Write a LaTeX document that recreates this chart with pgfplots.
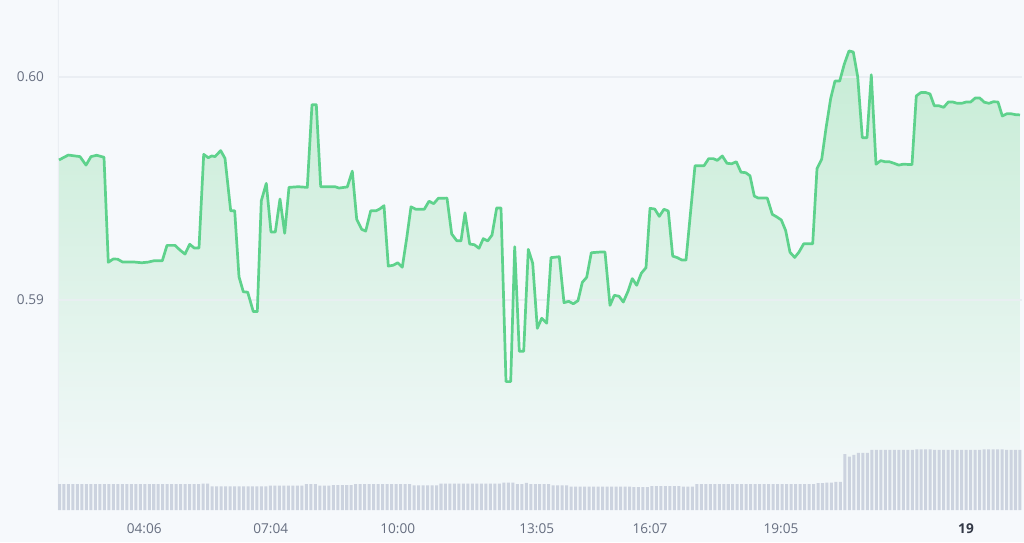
\documentclass[border=0pt]{standalone}
\usepackage{fontspec}
\setmainfont{Open Sans}
\usepackage{pgfplots}
\pgfplotsset{compat=1.18}
\usepackage{pgfplotstable}

\definecolor{bg}{RGB}{246,249,252}
\definecolor{linegreen}{RGB}{94,210,140}
\definecolor{fillgreen}{RGB}{198,236,213}
\definecolor{barcol}{RGB}{204,211,223}
\definecolor{gridcol}{RGB}{234,238,243}
\definecolor{ticktext}{RGB}{102,110,128}
\definecolor{boldtext}{RGB}{50,56,70}

% price, x = position along the time axis
\pgfplotstableread{
x y
59 0.59628
68.3 0.59650
80 0.59643
86 0.59605
91 0.59643
96.7 0.59649
104 0.59640
108.3 0.59169
113.3 0.59184
117.7 0.59183
122.7 0.59170
135 0.59170
141.7 0.59167
148.3 0.59170
154 0.59176
162.3 0.59176
167 0.59245
175 0.59245
180 0.59224
185 0.59206
189.7 0.59250
194.3 0.59233
199 0.59233
203.7 0.59653
208.3 0.59638
211.7 0.59646
215 0.59643
220.7 0.59670
225 0.59635
230.7 0.59400
234.7 0.59400
239 0.59104
243.3 0.59037
247.7 0.59035
253.3 0.58948
257.3 0.58948
261.3 0.59445
266.3 0.59523
271 0.59305
275.3 0.59305
280 0.59453
284.7 0.59299
289 0.59505
298.3 0.59508
307.3 0.59505
312 0.59876
316.3 0.59876
320.7 0.59508
330 0.59508
335 0.59508
339 0.59502
347.3 0.59507
352.3 0.59578
356.7 0.59362
361.7 0.59317
365.7 0.59309
370.7 0.59400
376 0.59400
380 0.59409
384 0.59423
388.3 0.59152
393.3 0.59156
397.7 0.59167
402.3 0.59147
406.7 0.59277
411 0.59418
415.7 0.59407
424.3 0.59407
429 0.59443
433.7 0.59432
438.3 0.59456
447 0.59457
451.7 0.59296
456.7 0.59266
461 0.59265
465 0.59391
469.7 0.59251
474.3 0.59248
479 0.59232
483.3 0.59275
487.7 0.59265
492 0.59291
496.7 0.59413
501 0.59413
506 0.58634
510.7 0.58634
514.7 0.59239
519.3 0.58770
523.7 0.58770
528.3 0.59227
532.7 0.59165
537.3 0.58873
541.7 0.58918
546.7 0.58896
551 0.59190
559.3 0.59194
564 0.58988
568.7 0.58994
573.3 0.58983
578 0.58997
582.3 0.59079
586.7 0.59102
591.3 0.59212
600 0.59215
605 0.59215
610 0.58976
614.3 0.59021
619 0.59017
623.3 0.58991
628 0.59039
632.3 0.59096
636.7 0.59066
641.3 0.59120
646 0.59145
650 0.59411
654.7 0.59408
659.3 0.59375
664 0.59407
668.3 0.59399
672.7 0.59197
677.3 0.59190
682 0.59179
686 0.59179
695 0.59602
704 0.59602
708.7 0.59634
713.3 0.59634
717.3 0.59626
722.3 0.59646
727 0.59613
731.7 0.59611
736.3 0.59620
741 0.59573
745.7 0.59571
750 0.59557
754.3 0.59466
758.3 0.59457
767.3 0.59457
772.3 0.59384
777 0.59372
781.3 0.59359
785.7 0.59311
790 0.59214
794.7 0.59191
799 0.59215
803.7 0.59252
812.7 0.59252
817 0.59589
821.7 0.59631
826 0.59770
830.7 0.59904
835 0.59982
839.7 0.59982
844.3 0.60058
849 0.60117
853.3 0.60112
857.7 0.60001
862.3 0.59728
867 0.59728
871.3 0.60010
876 0.59609
880.7 0.59625
885 0.59620
889.3 0.59620
894 0.59613
898.7 0.59605
903.3 0.59609
912 0.59607
916.3 0.59915
920.7 0.59930
925.3 0.59931
930 0.59924
934.3 0.59871
939 0.59871
943.7 0.59864
948.3 0.59888
952.7 0.59888
957.3 0.59882
961.7 0.59882
966.3 0.59888
970.7 0.59888
975.3 0.59906
979.7 0.59906
984.3 0.59887
989 0.59882
993.3 0.59889
998 0.59888
1002.3 0.59825
1006.7 0.59835
1011.3 0.59835
1015.7 0.59831
1020 0.59830
}\price

\begin{document}
\begin{tikzpicture}
\fill[bg] (-29pt,-16pt) rectangle (483pt,255pt);

\begin{axis}[
    at={(0,0)}, anchor=south west,
    scale only axis, width=482pt, height=255pt,
    xmin=58, xmax=1022,
    ymin=0.580583, ymax=0.603453,
    axis line style={draw=none},
    xtick={144.3,270.7,397.7,536.7,650,781,966},
    xticklabels={04:06,07:04,10:00,13:05,16:07,19:05,{\bfseries\color{boldtext}19}},
    ytick={0.59,0.60},
    yticklabels={0.59,0.60},
    major tick length=0pt,
    ymajorgrids,
    major grid style={draw=gridcol, line width=0.6pt},
    tick label style={font=\fontsize{6.8}{8}\selectfont, text=ticktext},
    xticklabel style={yshift=-3.5pt},
    yticklabel style={xshift=-3.5pt},
]
% gradient area under the price line
\addplot[draw=none, top color=fillgreen, bottom color=bg]
    table[x=x, y=y] {\price}
    -- (axis cs:1020,0.580583) -- (axis cs:59,0.580583) -- cycle;
\draw[gridcol, line width=0.6pt] (rel axis cs:0,0) -- (rel axis cs:0,1);
\draw[gridcol, line width=0.6pt, opacity=0.8] (axis cs:58,0.59) -- (axis cs:1022,0.59);
\draw[gridcol, line width=0.6pt, opacity=0.8] (axis cs:58,0.60) -- (axis cs:1022,0.60);
\addplot[linegreen, line width=1.35pt, line join=round] table[x=x, y=y] {\price};
\end{axis}

% volume bars
\begin{axis}[
    at={(0,0)}, anchor=south west,
    scale only axis, width=482pt, height=255pt,
    xmin=-0.334, xmax=214.45,
    ymin=0, ymax=19.615,
    hide axis,
]
\addplot[ybar, bar width=0.67, fill=barcol, draw=none] coordinates {
(0,1.00) (1,1.00) (2,1.00) (3,1.00) (4,1.00) (5,1.00) (6,1.00) (7,1.00) (8,1.00) (9,1.00)
(10,1.00) (11,1.00) (12,1.00) (13,1.00) (14,1.00) (15,1.00) (16,1.00) (17,1.00) (18,1.00) (19,1.00)
(20,1.00) (21,1.00) (22,1.00) (23,1.00) (24,1.00) (25,1.00) (26,1.00) (27,1.00) (28,1.00) (29,1.00)
(30,1.00) (31,1.00) (32,1.01) (33,1.01) (34,0.91) (35,0.91) (36,0.91) (37,0.91) (38,0.91) (39,0.91)
(40,0.91) (41,0.91) (42,0.91) (43,0.91) (44,0.91) (45,0.91) (46,0.91) (47,0.94) (48,0.94) (49,0.94)
(50,0.94) (51,0.94) (52,0.94) (53,0.94) (54,0.94) (55,1.00) (56,1.00) (57,1.00) (58,0.94) (59,0.94)
(60,0.94) (61,0.96) (62,0.96) (63,0.96) (64,0.96) (65,0.96) (66,1.00) (67,1.00) (68,1.00) (69,1.00)
(70,1.00) (71,1.00) (72,1.00) (73,1.00) (74,1.00) (75,1.00) (76,1.00) (77,1.00) (78,1.00) (79,0.95)
(80,0.95) (81,0.95) (82,0.95) (83,0.95) (84,0.95) (85,1.01) (86,1.01) (87,1.01) (88,1.01) (89,1.01)
(90,1.01) (91,1.01) (92,1.01) (93,1.01) (94,1.01) (95,1.01) (96,1.01) (97,1.01) (98,1.01) (99,1.05)
(100,1.05) (101,1.05) (102,1.00) (103,1.00) (104,1.04) (105,1.00) (106,1.00) (107,1.00) (108,1.00) (109,1.00)
(110,0.95) (111,0.95) (112,0.95) (113,0.95) (114,0.90) (115,0.90) (116,0.90) (117,0.90) (118,0.90) (119,0.90)
(120,0.90) (121,0.90) (122,0.90) (123,0.90) (124,0.90) (125,0.90) (126,0.90) (127,0.90) (128,0.88) (129,0.88)
(130,0.88) (131,0.88) (132,0.92) (133,0.92) (134,0.92) (135,0.92) (136,0.92) (137,0.92) (138,0.92) (139,0.90)
(140,0.90) (141,0.90) (142,1.00) (143,1.00) (144,1.00) (145,1.00) (146,1.00) (147,1.00) (148,1.00) (149,1.00)
(150,1.00) (151,1.00) (152,1.00) (153,1.00) (154,1.00) (155,1.00) (156,1.00) (157,1.00) (158,1.00) (159,1.00)
(160,1.00) (161,1.00) (162,1.00) (163,1.00) (164,1.00) (165,1.00) (166,1.00) (167,1.00) (168,1.00) (169,1.03)
(170,1.03) (171,1.05) (172,1.05) (173,1.08) (174,1.08) (175,2.15) (176,2.05) (177,2.12) (178,2.20) (179,2.20)
(180,2.20) (181,2.31) (182,2.31) (183,2.31) (184,2.31) (185,2.31) (186,2.31) (187,2.31) (188,2.31) (189,2.31)
(190,2.31) (191,2.33) (192,2.33) (193,2.33) (194,2.33) (195,2.31) (196,2.31) (197,2.31) (198,2.31) (199,2.31)
(200,2.31) (201,2.31) (202,2.31) (203,2.31) (204,2.31) (205,2.31) (206,2.33) (207,2.33) (208,2.33) (209,2.33)
(210,2.33) (211,2.31) (212,2.31) (213,2.31) (214,2.31)
};
\end{axis}

\pgfresetboundingbox
\path[use as bounding box] (-29pt,-16pt) rectangle (483pt,255pt);
\end{tikzpicture}
\end{document}
